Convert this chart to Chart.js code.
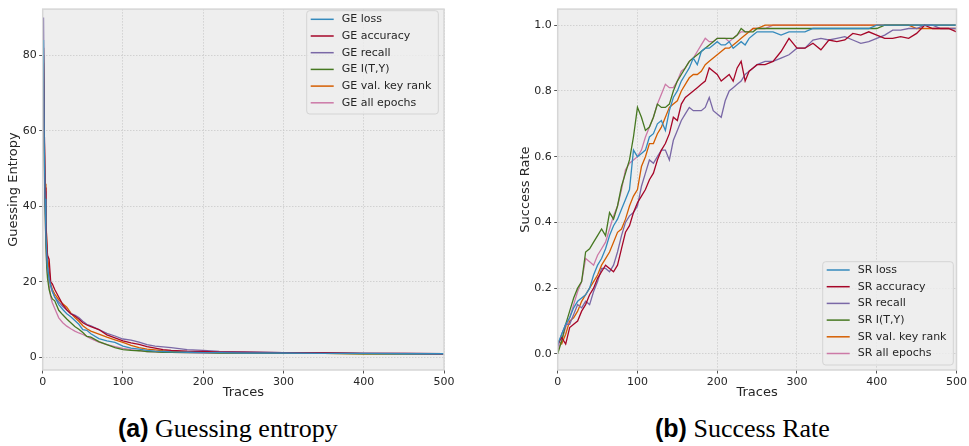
<!DOCTYPE html>
<html>
<head>
<meta charset="utf-8">
<script src="https://cdn.jsdelivr.net/npm/chart.js@4.4.0/dist/chart.umd.min.js"></script>
<style>
  body { margin: 0; background: #fff; width: 969px; height: 446px; position: relative; overflow: hidden; }
  canvas { position: absolute; top: 0; }
  #ge { left: 0; }
  #sr { left: 484px; }
  .cap { position: absolute; top: 414px; font-family: "Liberation Serif", serif; font-size: 26px; color: #000; white-space: nowrap; }
  .cap b { font-family: "Liberation Sans", sans-serif; font-weight: bold; font-size: 25px; }
</style>
</head>
<body>
<canvas id="ge" width="484" height="400"></canvas>
<canvas id="sr" width="485" height="400"></canvas>
<div class="cap" style="left:118px"><b>(a)</b> Guessing entropy</div>
<div class="cap" style="left:655px"><b>(b)</b> Success Rate</div>
<script>
// --- data ---
const colors = ['#348ABD', '#A60628', '#7A68A6', '#467821', '#D55E00', '#CC79A7'];
const traceTicks = [0, 100, 200, 300, 400, 500];
const geTicks = [0, 20, 40, 60, 80];
const srTicks = [0, 0.2, 0.4, 0.6, 0.8, 1.0];

const geLabels = ['GE loss', 'GE accuracy', 'GE recall', 'GE I(T,Y)', 'GE val. key rank', 'GE all epochs'];
const srLabels = ['SR loss', 'SR accuracy', 'SR recall', 'SR I(T,Y)', 'SR val. key rank', 'SR all epochs'];

const geTraces = [1, 2, 3, 4, 5, 6, 8, 10, 12, 15, 20, 25, 30, 35, 40, 45, 50, 55, 60, 70, 80, 90, 100, 110, 120, 130, 140, 150, 160, 180, 200, 220, 250, 300, 350, 400, 450, 500];
const geLoss   = [84, 55, 42, 33, 28, 24, 21, 19, 17.5, 16, 14, 12.7, 11.6, 10.8, 9.8, 8.8, 7.4, 7.2, 6.3, 5.0, 4.4, 4.0, 3.0, 2.5, 2.2, 1.9, 1.7, 1.6, 1.5, 1.4, 1.3, 1.3, 1.2, 1.2, 1.1, 1.1, 1.0, 1.0];
const geAcc    = [82, 60, 45, 36, 31, 27, 26, 20, 19.5, 18, 16, 14, 12.6, 11.6, 11, 10.2, 9.2, 8.6, 8.2, 7.4, 6.0, 5.2, 4.4, 3.9, 3.5, 2.9, 2.5, 2.1, 1.9, 1.7, 1.6, 1.4, 1.4, 1.3, 1.3, 1.1, 1.1, 1.0];
const geRecall = [90, 60, 44, 34, 28, 24, 21, 19, 17.5, 16, 14.7, 13.5, 12.6, 11.6, 11.2, 10.6, 9.6, 8.8, 8.4, 7.4, 6.4, 5.7, 4.9, 4.6, 4.1, 3.4, 3.0, 2.8, 2.6, 2.1, 1.9, 1.6, 1.5, 1.3, 1.2, 1.1, 1.1, 1.0];
const geITY    = [80, 52, 40, 30, 24, 21, 18, 16.5, 15.5, 15, 12.5, 11.3, 10.2, 9.2, 8.2, 7.5, 6.6, 5.6, 5.4, 4.2, 3.4, 2.6, 2.1, 1.9, 1.8, 1.6, 1.5, 1.4, 1.4, 1.3, 1.3, 1.2, 1.2, 1.1, 1.1, 1.0, 1.0, 1.0];
const geKey    = [78, 58, 46, 37, 31, 27, 23, 19.5, 18, 16.8, 15.3, 14.2, 13.3, 11.8, 10.6, 9.6, 8.4, 7.6, 7.0, 6.2, 5.4, 4.7, 4.0, 3.2, 2.6, 2.2, 2.0, 1.8, 1.7, 1.5, 1.4, 1.3, 1.2, 1.1, 1.1, 1.0, 1.0, 1.0];
const geAll    = [72, 50, 38, 30, 25, 22, 19, 16, 14.5, 13, 10.5, 9.2, 8.3, 7.6, 7.0, 6.5, 6.1, 5.6, 5.0, 4.1, 3.4, 2.9, 2.4, 2.1, 1.8, 1.6, 1.5, 1.4, 1.4, 1.3, 1.2, 1.2, 1.2, 1.2, 1.1, 1.1, 1.0, 1.0];

const srTraces = [0, 5, 10, 15, 20, 25, 30, 35, 40, 45, 50, 55, 60, 65, 70, 75, 80, 85, 90, 95, 100, 105, 110, 115, 120, 125, 130, 135, 140, 145, 150, 155, 160, 165, 170, 175, 180, 185, 190, 195, 200, 205, 210, 215, 220, 225, 230, 235, 240, 245, 250, 260, 270, 280, 290, 300, 310, 320, 330, 340, 350, 360, 370, 380, 390, 400, 410, 420, 430, 440, 450, 460, 470, 480, 490, 500];
const srLoss   = [.03, .06, .09, .11, .14, .16, .17, .18, .20, .24, .27,
                  .29, .32, .36, .39, .41, .44, .47, .50, .62, .60,
                  .61, .62, .66, .67, .70, .71, .68, .74, .78, .80,
                  .83, .85, .87, .90, .88, .92, .93, .93, .94, .95,
                  .94, .94, .95, .93, .94, .95, .94, .96, .97, .98,
                  .98, .98, .97, .98, .98, .98, .99, .99, .99, .99, .99, .99, .99, .99, 1, 1, 1, 1, 1, 1, 1, 1, 1, 1, 1];
const srAcc    = [.03, .05, .03, .08, .09, .10, .13, .15, .18, .20, .23,
                  .25, .27, .26, .25, .27, .32, .37, .39, .43, .46,
                  .48, .50, .53, .55, .59, .62, .64, .67, .72, .71,
                  .76, .78, .79, .80, .81, .82, .83, .87, .86, .85,
                  .83, .84, .85, .83, .87, .89, .83, .86, .87, .88,
                  .88, .89, .92, .96, .93, .93, .945, .925, .955, .95, .955, .975, .97, .98, .97, .96, .96, .965, .96, .975, 1.0, .99, .99, .99, .98];
const srRecall = [.02, .06, .09, .09, .12, .15, .14, .16, .15, .19, .22,
                  .26, .26, .25, .27, .31, .36, .40, .42, .43, .45,
                  .51, .55, .59, .58, .60, .62, .62, .59, .65, .68,
                  .71, .73, .75, .74, .74, .74, .75, .78, .74, .73,
                  .72, .77, .80, .81, .82, .83, .85, .86, .87, .88,
                  .89, .89, .90, .91, .93, .93, .955, .96, .955, .96, .965, .955, .945, .95, .96, .97, .985, .985, .99, .99, 1, 1, .99, .99, .99];
const srITY    = [0, .04, .09, .13, .17, .20, .22, .31, .32, .34, .36,
                  .38, .36, .43, .41, .45, .51, .55, .59, .66, .75,
                  .72, .68, .69, .72, .76, .75, .75, .76, .80, .83,
                  .85, .87, .89, .90, .91, .92, .93, .94, .95, .96,
                  .96, .96, .96, .96, .97, .99, .98, .98, .98, .99,
                  .99, .99, .99, .99, .99, .99, .99, .99, .99, .99, .99, .99, .99, .99, .99, 1, 1, 1, 1, 1, 1, 1, 1, 1, 1];
const srKey    = [.04, .03, .06, .10, .11, .13, .16, .18, .20, .22, .24,
                  .27, .29, .31, .34, .37, .38, .41, .45, .48, .50,
                  .57, .60, .64, .64, .67, .69, .72, .75, .76, .77,
                  .80, .82, .84, .85, .85, .86, .88, .89, .90, .91,
                  .92, .93, .93, .94, .95, .96, .97, .98, .99, .99,
                  1, 1, 1, 1, 1, 1, 1, 1, 1, 1, 1, 1, 1, 1, 1, 1, 1, 1, 1, .99, .99, .99, .99, .99, .99];
const srAll    = [.01, .04, .08, .11, .15, .19, .22, .29, .28, .27, .30,
                  .32, .34, .38, .42, .45, .50, .56, .58, .59, .60,
                  .62, .66, .69, .72, .76, .79, .82, .81, .81, .83,
                  .86, .87, .89, .90, .92, .94, .96, .95, .95, .96,
                  .96, .96, .95, .96, .97, .98, .98, .98, .99, .99,
                  .99, 1, 1, 1, 1, 1, 1, 1, 1, 1, 1, 1, 1, 1, 1, 1, 1, 1, 1, 1, 1, 1, 1, 1, 1];

Chart.defaults.font.family = '"DejaVu Sans", sans-serif';
Chart.defaults.font.size = 11;
Chart.defaults.color = '#262626';

// gray panel, light frame and an in-axes legend, matplotlib "bmh" look
const bmhPlugin = {
    id: 'bmh',
    beforeDraw(chart) {
        const { ctx, chartArea: a } = chart;
        ctx.save();
        ctx.fillStyle = '#eeeeee';
        ctx.fillRect(a.left, a.top, a.width, a.height);
        ctx.restore();
    },
    afterDraw(chart, args, opts) {
        const { ctx, chartArea: a } = chart;
        ctx.save();
        ctx.strokeStyle = '#d6d6d6';
        ctx.lineWidth = 1.5;
        ctx.strokeRect(a.left, a.top, a.width, a.height);

        const lg = opts.box;
        ctx.fillStyle = 'rgba(238,238,238,0.8)';
        ctx.strokeStyle = '#d4d4d4';
        ctx.lineWidth = 1;
        ctx.beginPath();
        ctx.roundRect(lg.x, lg.y, lg.w, lg.h, 3);
        ctx.fill();
        ctx.stroke();
        ctx.font = '11px "DejaVu Sans", sans-serif';
        ctx.textBaseline = 'middle';
        chart.data.datasets.forEach((ds, i) => {
            const y = lg.y + lg.first + i * lg.step;
            ctx.strokeStyle = ds.borderColor;
            ctx.lineWidth = 1.5;
            ctx.beginPath();
            ctx.moveTo(lg.x + 4, y);
            ctx.lineTo(lg.x + 27, y);
            ctx.stroke();
            ctx.fillStyle = '#262626';
            ctx.fillText(ds.label, lg.x + 35, y);
        });
        ctx.restore();
    }
};

function makeChart(id, traces, series, labels, yMin, yMax, yTicks, yTitle, fmt, layout, box) {
    const datasets = series.map((vals, i) => ({
        label: labels[i],
        data: traces.map((t, j) => ({ x: t, y: vals[j] })),
        borderColor: colors[i],
        borderWidth: 1.3,
        pointRadius: 0,
        tension: 0,
        fill: false
    }));
    const grid = { color: '#c9c9c9', lineWidth: 0.8, tickColor: '#555', tickLength: 3.5, tickWidth: 1 };
    return new Chart(document.getElementById(id), {
        type: 'line',
        data: { datasets },
        options: {
            responsive: false,
            animation: false,
            devicePixelRatio: 1,
            layout: { padding: layout.padding },
            plugins: { legend: { display: false }, tooltip: { enabled: false }, bmh: { box } },
            scales: {
                x: {
                    type: 'linear', min: 0, max: 500,
                    afterBuildTicks: s => { s.ticks = traceTicks.map(v => ({ value: v })); },
                    afterFit: s => { s.height = 30; },
                    grid,
                    border: { display: false, dash: [1.5, 1.5] },
                    ticks: { padding: 2, maxRotation: 0, callback: v => String(v) },
                    title: { display: true, text: 'Traces', font: { size: 13 }, padding: 0 }
                },
                y: {
                    min: yMin, max: yMax,
                    afterBuildTicks: s => { s.ticks = yTicks.map(v => ({ value: v })); },
                    afterFit: s => { s.width = layout.yWidth; },
                    grid,
                    border: { display: false, dash: [1.5, 1.5] },
                    ticks: { padding: 2.5, callback: fmt },
                    title: { display: true, text: yTitle, font: { size: 13 }, padding: { top: layout.titlePad, bottom: 0 } }
                }
            }
        },
        plugins: [bmhPlugin]
    });
}

makeChart('ge', geTraces, [geLoss, geAcc, geRecall, geITY, geKey, geAll], geLabels,
    -3.3, 92.2, geTicks, 'Guessing Entropy', v => String(v),
    { padding: { left: 0, right: 40, top: 5, bottom: 0 }, yWidth: 42.7, titlePad: 6 },
    { x: 306.7, y: 10.7, w: 131.6, h: 103.3, first: 8.6, step: 16.7 });

makeChart('sr', srTraces, [srLoss, srAcc, srRecall, srITY, srKey, srAll], srLabels,
    -0.049, 1.049, srTicks, 'Success Rate', v => v.toFixed(1),
    { padding: { left: 30, right: 9.7, top: 5, bottom: 0 }, yWidth: 43.7, titlePad: 4 },
    { x: 338.7, y: 261.7, w: 130.6, h: 103.3, first: 8.3, step: 16.7 });
</script>
</body>
</html>
